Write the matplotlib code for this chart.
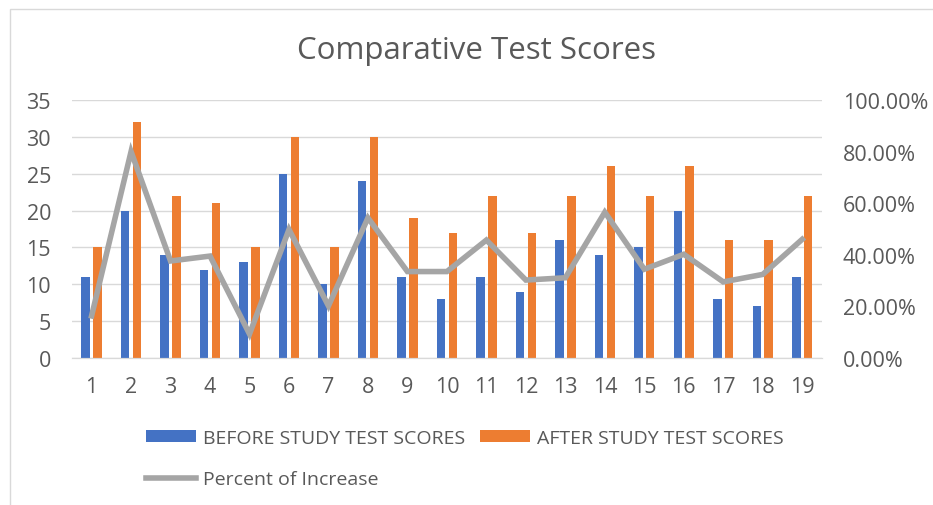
import matplotlib.pyplot as plt
import numpy as np
from matplotlib.patches import Rectangle
from matplotlib.ticker import FuncFormatter

plt.rcParams['font.family'] = ['Open Sans', 'DejaVu Sans']

# data
students = list(range(1, 20))
before = [11, 20, 14, 12, 13, 25, 10, 24, 11, 8, 11, 9, 16, 14, 15, 20, 8, 7, 11]
after = [15, 32, 22, 21, 15, 30, 15, 30, 19, 17, 22, 17, 22, 26, 22, 26, 16, 16, 22]
pct_increase = [16.3, 80.0, 37.6, 39.5, 9.3, 49.8, 20.2, 54.3, 33.5, 33.5,
                45.7, 30.2, 31.1, 56.5, 34.4, 40.2, 29.5, 32.4, 46.0]

blue = '#4472C4'
orange = '#ED7D31'
gray = '#A5A5A5'
txt = '#595959'

fig = plt.figure(figsize=(9.33, 5.06), dpi=100)
ax = fig.add_axes([0.077, 0.2905, 0.804, 0.51])
ax2 = ax.twinx()

x = np.arange(len(students))
w = 0.215
b1 = ax.bar(x - 0.15, before, w, color=blue, label='BEFORE STUDY TEST SCORES', zorder=2)
b2 = ax.bar(x + 0.15, after, w, color=orange, label='AFTER STUDY TEST SCORES', zorder=2)
ln, = ax2.plot(x, np.array(pct_increase) / 100, color=gray, lw=4, label='Percent of Increase',
               solid_joinstyle='miter', zorder=3)

ax.set_xlim(-0.5, len(students) - 0.5)
ax.set_ylim(0, 35)
ax.set_yticks(range(0, 36, 5))
ax2.set_ylim(0, 1.0)
ax2.set_yticks(np.arange(0, 1.01, 0.2))
ax2.yaxis.set_major_formatter(FuncFormatter(lambda v, p: '{:.2f}%'.format(v * 100)))
ax.set_xticks(x)
ax.set_xticklabels([str(s) for s in students])

ax.grid(axis='y', color='#D9D9D9', lw=1, zorder=0)
ax.set_axisbelow(True)
for a in (ax, ax2):
    for s in ('top', 'left', 'right'):
        a.spines[s].set_visible(False)
    a.spines['bottom'].set_color('#D9D9D9')
    a.tick_params(length=0, labelsize=15.5, colors=txt)
ax.tick_params(axis='y', pad=15)
ax.tick_params(axis='x', pad=13)
ax2.tick_params(axis='y', pad=15)

fig.text(0.511, 0.9, 'Comparative Test Scores', ha='center', va='center', fontsize=22.5, color=txt)

fig.legend([b1, ln, b2], ['BEFORE STUDY TEST SCORES', 'Percent of Increase', 'AFTER STUDY TEST SCORES'],
           ncol=2, loc='upper left', bbox_to_anchor=(0.148, 0.166), frameon=False,
           fontsize=14, labelcolor=txt, handlelength=2.6, handleheight=0.6,
           handletextpad=0.35, columnspacing=0.75, labelspacing=1.2, borderaxespad=0)

fig.patches.append(Rectangle((0.011, -0.01), 1.0, 0.99, transform=fig.transFigure,
                             fill=False, edgecolor='#D9D9D9', lw=1))

fig.savefig('out.png', dpi=100)
